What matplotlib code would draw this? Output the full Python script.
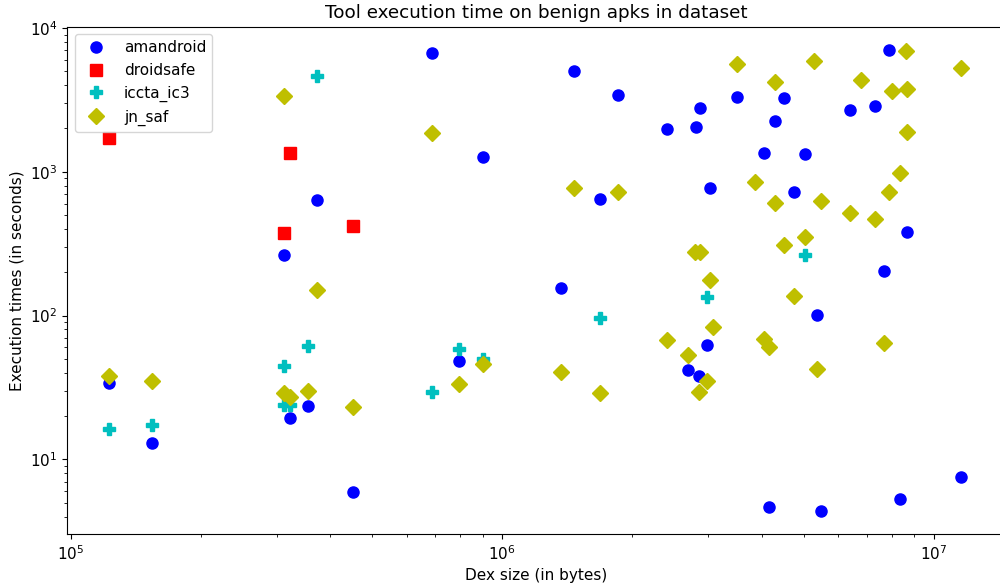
import matplotlib
matplotlib.use('Agg')
import matplotlib.pyplot as plt

plt.rcParams.update({
    'font.size': 11,
    'axes.titlesize': 13.2,
    'axes.labelsize': 11,
    'xtick.labelsize': 11,
    'ytick.labelsize': 11,
    'legend.fontsize': 11,
})

# dex size (bytes) / execution time (seconds) per tool
amandroid_x = [6.88e5, 1.469e6, 1.850e6, 2.407e6, 2.813e6, 2.87e6, 3.486e6, 4.488e6,
               4.278e6, 4.04e6, 5.028e6, 6.39e6, 7.30e6, 7.865e6, 8.63e6, 7.671e6,
               5.359e6, 2.979e6, 2.696e6, 2.848e6, 1.679e6, 3.027e6, 4.733e6, 1.368e6,
               9.03e5, 3.72e5, 3.12e5, 7.95e5, 1.23e5, 1.546e5, 3.22e5, 3.55e5,
               4.50e5, 4.15e6, 5.466e6, 8.326e6, 1.152e7]
amandroid_y = [6680, 4985, 3396, 1981, 2045, 2758, 3289, 3278,
               2240, 1355, 1321, 2684, 2848, 7045, 381, 203,
               100.5, 62.8, 41.9, 38.0, 649, 774, 719, 155,
               1272, 636, 264, 48.1, 33.8, 12.9, 19.5, 23.6,
               5.95, 4.65, 4.37, 5.34, 7.56]

droidsafe_x = [1.23e5, 3.22e5, 3.12e5, 4.50e5]
droidsafe_y = [1723, 1355, 373, 421]

iccta_x = [3.72e5, 3.55e5, 3.12e5, 7.95e5, 9.03e5, 6.88e5, 3.12e5, 3.22e5,
           1.23e5, 1.546e5, 1.679e6, 2.979e6, 5.028e6]
iccta_y = [4624, 61.8, 44.9, 58.6, 49.9, 29.4, 23.7, 23.7,
           16.2, 17.4, 95.8, 135, 265]

jnsaf_x = [3.12e5, 6.88e5, 3.72e5, 1.23e5, 1.546e5, 3.12e5, 3.22e5, 3.55e5,
           4.50e5, 7.95e5, 9.03e5, 1.469e6, 1.850e6, 1.679e6, 1.368e6, 2.407e6,
           2.696e6, 2.79e6, 2.874e6, 2.979e6, 2.848e6, 3.027e6, 3.069e6, 3.486e6,
           3.852e6, 4.041e6, 4.15e6, 4.278e6, 4.278e6, 4.488e6, 4.733e6, 5.02e6,
           5.283e6, 5.359e6, 5.466e6, 6.39e6, 6.764e6, 7.29e6, 7.671e6, 7.865e6,
           8.004e6, 8.326e6, 8.61e6, 8.63e6, 8.656e6, 1.152e7]
jnsaf_y = [3359, 1849, 151, 38.0, 34.9, 29.1, 27.1, 29.9,
           23.3, 33.3, 45.9, 774, 722, 29.0, 40.7, 67.7,
           53.5, 275, 275, 35.3, 29.3, 176, 83, 5630,
           852, 69.1, 60.2, 4222, 609, 308, 137.5, 350,
           5850, 42.4, 629, 516, 4359, 469, 64.8, 719,
           3655, 984, 6900, 1888, 3774, 5255]

fig = plt.figure(figsize=(10, 5.88), dpi=100)
# the source image was cropped at the right, so the axes run past the edge
ax = fig.add_axes([0.0673, 0.0913, 0.9373, 0.8633])

ax.plot(amandroid_x, amandroid_y, 'bo', markersize=8, label='amandroid')
ax.plot(droidsafe_x, droidsafe_y, 'rs', markersize=8, label='droidsafe')
ax.plot(iccta_x, iccta_y, 'cP', markersize=8, label='iccta_ic3')
ax.plot(jnsaf_x, jnsaf_y, 'yD', markersize=8, label='jn_saf')

ax.set_xscale('log')
ax.set_yscale('log')
ax.set_xlim(9.83e4, 1.456e7)
ax.set_ylim(3.01, 1.02e4)
ax.spines['right'].set_visible(False)

ax.set_title('Tool execution time on benign apks in dataset')
ax.set_xlabel('Dex size (in bytes)')
ax.set_ylabel('Execution times (in seconds)')
ax.legend(loc='upper left')

fig.savefig('out.png', dpi=100)
